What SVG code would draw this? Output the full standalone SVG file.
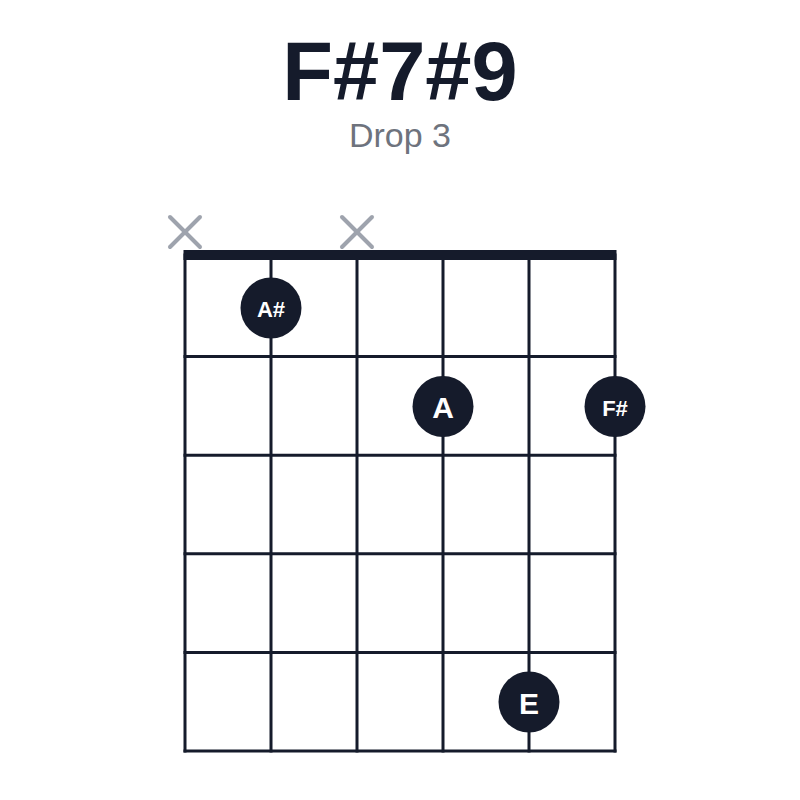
<svg xmlns="http://www.w3.org/2000/svg" width="800" height="800" viewBox="0 0 800 800">
<style>
.grid line{stroke:#151b2b;stroke-width:3;stroke-linecap:square}
.x line{stroke:#9ea3ad;stroke-width:4;stroke-linecap:round}
.dot circle{fill:#151b2b}
.dot text{fill:#ffffff;font-family:"Liberation Sans",Arial,sans-serif;font-weight:bold;text-anchor:middle;dominant-baseline:central}
.t1{font-size:30px}
.t2{font-size:22px}
</style>
<rect width="800" height="800" fill="#ffffff"/>
<text x="400" y="100" text-anchor="middle" font-family="'Liberation Sans',Arial,sans-serif" font-weight="bold" font-size="83" fill="#151b2b">F#7#9</text>
<text x="400" y="147" text-anchor="middle" font-family="'Liberation Sans',Arial,sans-serif" font-size="34" fill="#6e737d">Drop 3</text>
<g id="grid" class="grid">
<line x1="185" y1="255" x2="185" y2="751"/>
<line x1="271" y1="255" x2="271" y2="751"/>
<line x1="357" y1="255" x2="357" y2="751"/>
<line x1="443" y1="255" x2="443" y2="751"/>
<line x1="529" y1="255" x2="529" y2="751"/>
<line x1="615" y1="255" x2="615" y2="751"/>
<line x1="185" y1="356.6" x2="615" y2="356.6"/>
<line x1="185" y1="455.2" x2="615" y2="455.2"/>
<line x1="185" y1="553.8" x2="615" y2="553.8"/>
<line x1="185" y1="652.4" x2="615" y2="652.4"/>
<line x1="185" y1="751" x2="615" y2="751"/>
<rect x="183.5" y="250" width="433" height="10" fill="#151b2b"/>
</g>
<g id="mute1" class="x"><line x1="170" y1="217" x2="200" y2="247"/><line x1="200" y1="217" x2="170" y2="247"/></g>
<g id="mute3" class="x"><line x1="342" y1="217" x2="372" y2="247"/><line x1="372" y1="217" x2="342" y2="247"/></g>
<g id="dotAs" class="dot"><circle cx="271" cy="308" r="30.5"/><text class="t2" x="271" y="309">A#</text></g>
<g id="dotA" class="dot"><circle cx="443" cy="406.5" r="30.5"/><text class="t1" x="443" y="407">A</text></g>
<g id="dotFs" class="dot"><circle cx="615" cy="406.5" r="30.5"/><text class="t2" x="615" y="408">F#</text></g>
<g id="dotE" class="dot"><circle cx="529" cy="702" r="30.5"/><text class="t1" x="529" y="703">E</text></g>
</svg>
